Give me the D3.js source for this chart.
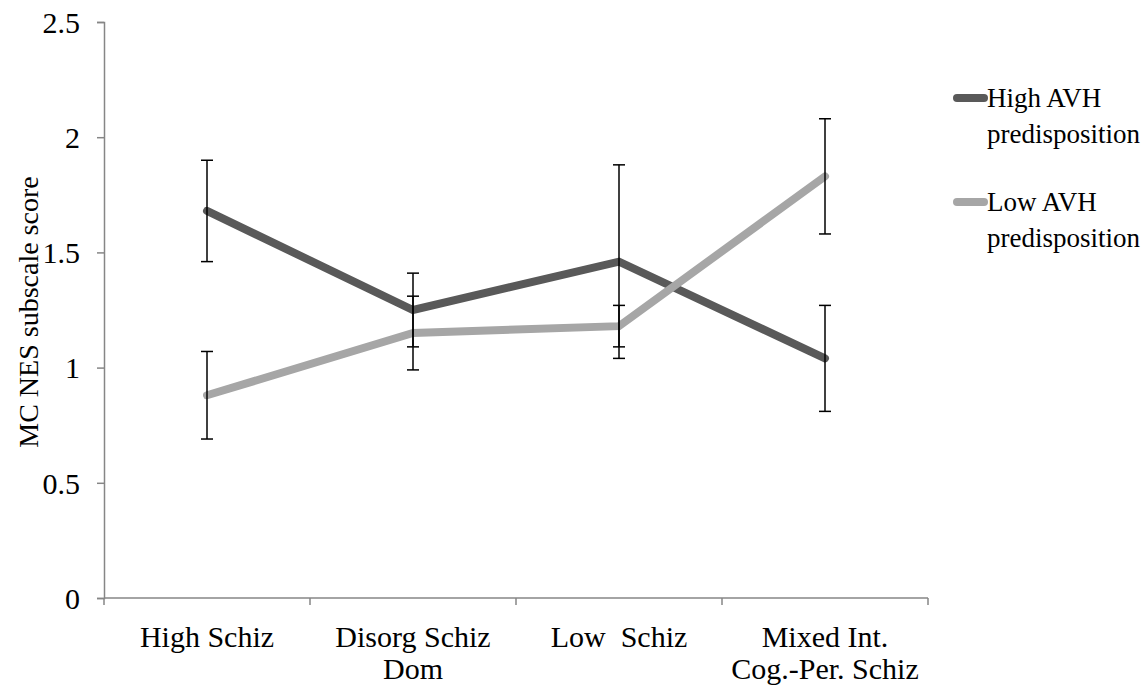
<!DOCTYPE html>
<html><head><meta charset="utf-8">
<script src="https://cdn.jsdelivr.net/npm/d3@7"></script>
<style>body{margin:0;background:#fff}svg{display:block}text{font-family:"Liberation Serif","Times New Roman",serif;fill:#000}</style>
</head><body>
<svg id="c" width="1145" height="686"></svg>
<script>
const categories = [["High Schiz"], ["Disorg Schiz", "Dom"], ["Low  Schiz"], ["Mixed Int.", "Cog.-Per. Schiz"]];
const catKeys = ["High Schiz", "Disorg Schiz Dom", "Low Schiz", "Mixed Int. Cog.-Per. Schiz"];
const highAVH = [1.68, 1.25, 1.46, 1.04];
const highErr = [0.22, 0.16, 0.42, 0.23];
const lowAVH = [0.88, 1.15, 1.18, 1.83];
const lowErr = [0.19, 0.16, 0.09, 0.25];
const yTicks = [0, 0.5, 1, 1.5, 2, 2.5];
const seriesNames = [["High AVH", "predisposition"], ["Low AVH", "predisposition"]];
const colors = ["#595959", "#a6a6a6"];

const svg = d3.select("#c");
const x = d3.scaleBand().domain(catKeys).range([104, 928]);
const y = d3.scaleLinear().domain([0, 2.5]).range([598, 22]);
const axisColor = "#868686";
const FS = "30px";

// y axis
const ya = svg.append("g").attr("transform", "translate(104,0)")
  .call(d3.axisLeft(y).tickValues(yTicks).tickFormat(d => String(d)).tickSize(7).tickPadding(17));
ya.select(".domain").attr("stroke", axisColor).attr("stroke-width", 1.5);
ya.selectAll(".tick line").attr("stroke", axisColor).attr("stroke-width", 1.5);
ya.selectAll(".tick text").style("font-family", '"Liberation Serif",serif').style("font-size", FS).attr("fill", "#000").attr("dy", "0.34em");

// x axis
const xg = svg.append("g");
xg.append("line").attr("x1", 104).attr("x2", 928).attr("y1", y(0)).attr("y2", y(0))
  .attr("stroke", axisColor).attr("stroke-width", 1.5);
const bounds = catKeys.map(k => x(k)).concat([x.range()[1]]);
xg.selectAll("line.tk").data(bounds).enter().append("line").attr("class", "tk")
  .attr("x1", d => d).attr("x2", d => d).attr("y1", y(0)).attr("y2", y(0) + 7)
  .attr("stroke", axisColor).attr("stroke-width", 1.5);
catKeys.forEach((k, i) => {
  const cxv = x(k) + x.bandwidth() / 2;
  const t = xg.append("text").attr("text-anchor", "middle").style("font-size", FS)
    .attr("x", cxv).attr("y", 647).attr("xml:space", "preserve").style("white-space", "pre");
  categories[i].forEach((ln, j) => t.append("tspan").attr("x", cxv).attr("dy", j === 0 ? 0 : 32).text(ln));
});

// y title
svg.append("text").attr("transform", "translate(38,312) rotate(-90)").attr("text-anchor", "middle")
  .style("font-size", "28px").text("MC NES subscale score");

const cx = i => x(catKeys[i]) + x.bandwidth() / 2;
const line = d3.line().x((d, i) => cx(i)).y(d => y(d));

// lines
[[highAVH, highErr], [lowAVH, lowErr]].forEach(([vals, errs], s) => {
  svg.append("path").datum(vals).attr("d", line).attr("fill", "none")
    .attr("stroke", colors[s]).attr("stroke-width", 8).attr("stroke-linecap", "round").attr("stroke-linejoin", "miter");
});
// error bars
[[highAVH, highErr], [lowAVH, lowErr]].forEach(([vals, errs]) => {
  vals.forEach((v, i) => {
    const g = svg.append("g").attr("stroke", "#000").attr("stroke-width", 1.5);
    g.append("line").attr("x1", cx(i)).attr("x2", cx(i)).attr("y1", y(v + errs[i])).attr("y2", y(v - errs[i]));
    [v + errs[i], v - errs[i]].forEach(e => g.append("line").attr("x1", cx(i) - 6).attr("x2", cx(i) + 6).attr("y1", y(e)).attr("y2", y(e)));
  });
});

// legend
const legY = [98, 202];
seriesNames.forEach((nm, s) => {
  svg.append("line").attr("x1", 957).attr("x2", 984).attr("y1", legY[s]).attr("y2", legY[s])
    .attr("stroke", colors[s]).attr("stroke-width", 8).attr("stroke-linecap", "round");
  const t = svg.append("text").style("font-size", "27px").attr("x", 987).attr("y", legY[s] + 9);
  nm.forEach((ln, j) => t.append("tspan").attr("x", 987).attr("dy", j === 0 ? 0 : 36).text(ln));
});
</script>
</body></html>
